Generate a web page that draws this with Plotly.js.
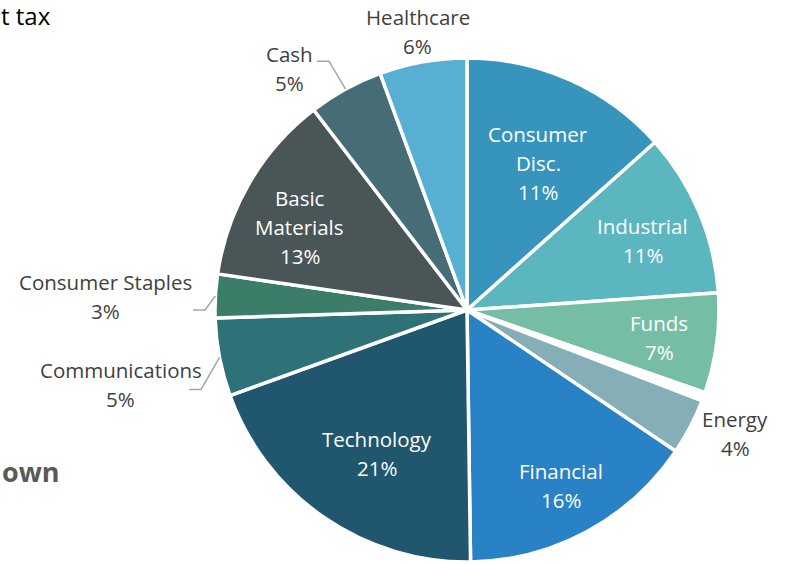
<!DOCTYPE html>
<html>
<head>
<meta charset="utf-8">
<script src="https://cdn.plot.ly/plotly-3.0.1.min.js"></script>
<style>html,body{margin:0;padding:0;background:#fff;}#chart{width:785px;height:564px;}</style>
</head>
<body>
<div id="chart"></div>
<script>
// Sectors, clockwise from 12 o'clock
var sectors = ['Consumer Disc.', 'Industrial', 'Funds', 'Unallocated', 'Energy', 'Financial',
               'Technology', 'Communications', 'Consumer Staples', 'Basic Materials', 'Cash', 'Healthcare'];
// slice sizes (percent of the circle)
var sliceShares = [13.4, 10.5, 6.4, 0.55, 3.6, 15.3, 19.7, 5.0, 2.8, 12.3, 4.8, 5.6];
// percentages printed on the data labels
var labelPercents = [11, 11, 7, null, 4, 16, 21, 5, 3, 13, 5, 6];

// ---- styling ----
var displayLines = {
  'Consumer Disc.': ['Consumer', 'Disc.'],
  'Basic Materials': ['Basic', 'Materials']
};
var colors = ['#3794bc', '#5bb6bf', '#75bea5', '#ffffff', '#86aeb6', '#2a82c6',
              '#20576e', '#2e7176', '#3b7d68', '#4a5557', '#466d76', '#57afd1'];
// inside labels: radius fraction and small angle offset (deg) from the slice mid-angle
var insideStyle = {
  'Consumer Disc.':  { r: 0.65, dAng: 1.7 },
  'Industrial':      { r: 0.75, dAng: 1.3 },
  'Funds':           { r: 0.77, dAng: 0.4 },
  'Financial':       { r: 0.79, dAng: 0.2 },
  'Technology':      { r: 0.67, dAng: -2.6 },
  'Basic Materials': { r: 0.74, dAng: -4.0 }
};
// outside labels: offset of the label centre from the slice's outer midpoint (px)
var outsideStyle = {
  'Energy':           { dx: 45,   dy: 7,   leader: false },
  'Communications':   { dx: -99,  dy: 27,  leader: true },
  'Consumer Staples': { dx: -110, dy: 1,   leader: true },
  'Cash':             { dx: -56,  dy: -21, leader: true },
  'Healthcare':       { dx: -5,   dy: -30, leader: false }
};

var FONT = 'Open Sans, sans-serif';
var FS = 20.5, LINE = 29;
var R = 252, cx = 467, cyTop = 310, W = 785, H = 564;
var cyB = H - cyTop;

var trace = {
  type: 'pie',
  labels: sectors,
  values: sliceShares,
  textinfo: 'none',
  hoverinfo: 'label+percent',
  sort: false,
  direction: 'clockwise',
  rotation: 0,
  marker: { colors: colors, line: { color: '#ffffff', width: 3.5 } },
  domain: { x: [(cx - R) / W, (cx + R) / W], y: [(cyB - R) / H, (cyB + R) / H] }
};

var total = sliceShares.reduce(function (a, b) { return a + b; }, 0);
var annotations = [];
var shapes = [];
function px2x(x) { return x / W; }
function px2y(y) { return 1 - y / H; }

function addLabel(lines, lx, ly, color) {
  var n = lines.length;
  lines.forEach(function (t, k) {
    var y = ly + (k - (n - 1) / 2) * LINE;
    annotations.push({
      text: t, xref: 'paper', yref: 'paper', x: px2x(lx), y: px2y(y),
      xanchor: 'center', yanchor: 'middle', showarrow: false,
      font: { family: FONT, size: FS, color: color }
    });
  });
}

var cum = 0;
sliceShares.forEach(function (v, i) {
  var midDeg = (cum + v / 2) / total * 360;
  cum += v;
  var name = sectors[i];
  if (labelPercents[i] === null) return;
  var lines = (displayLines[name] || [name]).concat([labelPercents[i] + '%']);
  var ins = insideStyle[name], out = outsideStyle[name];
  if (ins) {
    var a = (midDeg + ins.dAng) * Math.PI / 180;
    addLabel(lines, cx + ins.r * R * Math.sin(a), cyTop - ins.r * R * Math.cos(a), '#ffffff');
  } else if (out) {
    var m = midDeg * Math.PI / 180;
    var ex = cx + R * Math.sin(m), ey = cyTop - R * Math.cos(m);
    var lx = ex + out.dx, ly = ey + out.dy;
    addLabel(lines, lx, ly, '#404040');
    if (out.leader) {
      var elbowY = ly + (out.dy > 10 ? 5 : (out.dy < -10 ? -7 : 13));
      var elbowX = ex - 4 - Math.abs(ey - elbowY) * 0.45;
      var endX = elbowX - 12;
      shapes.push({
        type: 'path', xref: 'paper', yref: 'paper',
        path: 'M' + px2x(ex) + ',' + px2y(ey) + ' L' + px2x(elbowX) + ',' + px2y(elbowY) +
              ' L' + px2x(endX) + ',' + px2y(elbowY),
        line: { color: '#a6a6a6', width: 1.5 }
      });
    }
  }
});

annotations.push(
  { text: 't tax', xref: 'paper', yref: 'paper', x: px2x(-1), y: px2y(-3), xanchor: 'left', yanchor: 'top',
    showarrow: false, font: { family: FONT, size: 24, color: '#000000' } },
  { text: '<b>own</b>', xref: 'paper', yref: 'paper', x: px2x(0), y: px2y(471), xanchor: 'left', yanchor: 'middle',
    showarrow: false, font: { family: FONT, size: 27, color: '#595959' } }
);

var layout = {
  width: W, height: H,
  margin: { l: 0, r: 0, t: 0, b: 0 },
  showlegend: false,
  paper_bgcolor: '#ffffff',
  font: { family: FONT, color: '#404040' },
  annotations: annotations,
  shapes: shapes
};

Plotly.newPlot('chart', [trace], layout, { displayModeBar: false, staticPlot: true });
</script>
</body>
</html>
